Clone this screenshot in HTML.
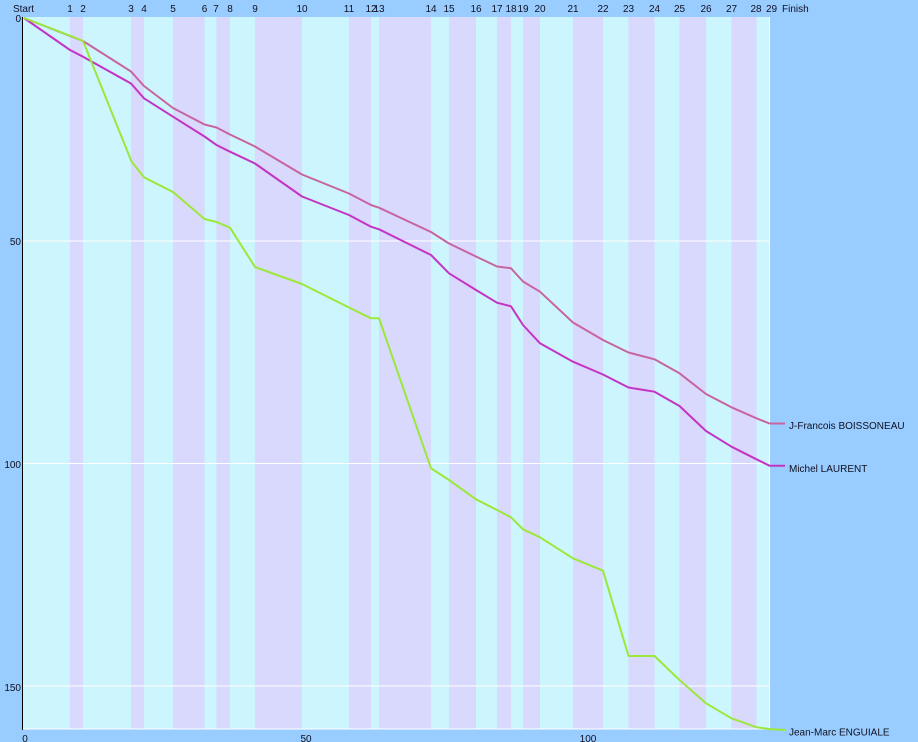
<!DOCTYPE html>
<html>
<head>
<meta charset="utf-8">
<style>
  html, body { margin:0; padding:0; background:#99ccff; }
  body { width:918px; height:742px; overflow:hidden; }
  svg { display:block; }
  text { font-family:"Liberation Sans", Arial, sans-serif; font-size:10px; fill:#101020; }
</style>
</head>
<body>
<svg width="918" height="742" viewBox="0 0 918 742" xmlns="http://www.w3.org/2000/svg">
  <rect x="0" y="0" width="918" height="742" fill="#99ccff"/>
  <!-- plot stripes -->
  <g shape-rendering="crispEdges">
    <rect x="23" y="17" width="746.5" height="712" fill="#ccf5fe"/>
    <g fill="#d9d9fd">
      <rect x="70" y="17" width="13" height="712"/>
      <rect x="131" y="17" width="13" height="712"/>
      <rect x="173" y="17" width="31.5" height="712"/>
      <rect x="216.5" y="17" width="13.5" height="712"/>
      <rect x="255" y="17" width="47" height="712"/>
      <rect x="349" y="17" width="22" height="712"/>
      <rect x="379" y="17" width="52" height="712"/>
      <rect x="449" y="17" width="27" height="712"/>
      <rect x="497" y="17" width="14" height="712"/>
      <rect x="523" y="17" width="17" height="712"/>
      <rect x="573" y="17" width="30" height="712"/>
      <rect x="628.5" y="17" width="26" height="712"/>
      <rect x="679.5" y="17" width="26.5" height="712"/>
      <rect x="731.5" y="17" width="25" height="712"/>
    </g>
    <!-- gridlines -->
    <g fill="#ffffff">
      <rect x="23" y="240.5" width="746.5" height="1"/>
      <rect x="23" y="463" width="746.5" height="1"/>
      <rect x="23" y="685.5" width="746.5" height="1"/>
      <rect x="23" y="728.5" width="747" height="1"/>
      <rect x="769" y="17" width="1" height="712"/>
    </g>
    <rect x="22" y="17" width="1.2" height="713" fill="#000000"/>
  </g>

  <!-- top labels -->
  <g text-anchor="middle">
    <text x="23.5" y="12">Start</text>
    <text x="70" y="12">1</text>
    <text x="83" y="12">2</text>
    <text x="131" y="12">3</text>
    <text x="144" y="12">4</text>
    <text x="173" y="12">5</text>
    <text x="204.5" y="12">6</text>
    <text x="216" y="12">7</text>
    <text x="230" y="12">8</text>
    <text x="255" y="12">9</text>
    <text x="302" y="12">10</text>
    <text x="349" y="12">11</text>
    <text x="371" y="12">12</text>
    <text x="379" y="12">13</text>
    <text x="431" y="12">14</text>
    <text x="449" y="12">15</text>
    <text x="476" y="12">16</text>
    <text x="497" y="12">17</text>
    <text x="511" y="12">18</text>
    <text x="523" y="12">19</text>
    <text x="540" y="12">20</text>
    <text x="573" y="12">21</text>
    <text x="603" y="12">22</text>
    <text x="628.5" y="12">23</text>
    <text x="654.5" y="12">24</text>
    <text x="679.5" y="12">25</text>
    <text x="706" y="12">26</text>
    <text x="731.5" y="12">27</text>
    <text x="756" y="12">28</text>
    <text x="771.5" y="12">29</text>
  </g>
  <text x="782" y="12">Finish</text>

  <!-- y axis labels -->
  <g text-anchor="end">
    <text x="21" y="22">0</text>
    <text x="21" y="245">50</text>
    <text x="21" y="468">100</text>
    <text x="21" y="691">150</text>
  </g>
  <!-- x axis labels -->
  <g text-anchor="middle">
    <text x="25" y="742">0</text>
    <text x="306" y="742">50</text>
    <text x="588" y="742">100</text>
  </g>

  <!-- series -->
  <g fill="none" stroke-width="2" stroke-linejoin="round" stroke-linecap="butt">
    <polyline stroke="#c864a0" points="24,18 70,36 83,41 131,71.5 144,86 173,108 204.5,124.5 216.5,127.5 230,134.5 255,146.5 302,174.5 349,193.5 371,205 379,207.7 431,232 449,243.5 476,256.5 497,266.5 511,268.3 523,281.5 540,291.7 573,322.5 603,340 628.5,352.5 654.5,359.3 679.5,373.3 706,394 731.5,407.3 756.5,418.3 769.5,423.5 785,423.5"/>
    <polyline stroke="#c434c4" points="24,18 70,50 83,56.7 131,83.5 144,98.3 173,116.7 204.5,136.5 216.5,145 230,151.7 255,163.5 302,196.5 349,215 371,226.7 379,229.3 431,255 449,273.3 476,290 497,302.7 511,306.3 523,325 540,343.3 573,361.7 603,374.5 628.5,387.5 654.5,391.7 679.5,406 706,431 731.5,446.7 756.5,459.3 769.5,465.7 785,465.7"/>
    <polyline stroke="#9ce83a" points="24,18 70,35.7 83,41 131.5,161.5 144,177.3 173,192 204.5,219 216.5,222 230,227.7 255,267 302,284 349,307.5 371,318.3 379,318.3 431,468.3 449,480 476,499.3 497,510 511,517.3 523,529.3 540,537.3 573,558.3 603,570.7 628.5,656 654.5,656 679.5,680 706,703.3 731.5,718.3 756.5,727.3 769.5,729 785,730"/>
  </g>

  <!-- series labels -->
  <text x="789" y="429">J-Francois BOISSONEAU</text>
  <text x="789" y="472">Michel LAURENT</text>
  <text x="789" y="735.5">Jean-Marc ENGUIALE</text>
</svg>
</body>
</html>
